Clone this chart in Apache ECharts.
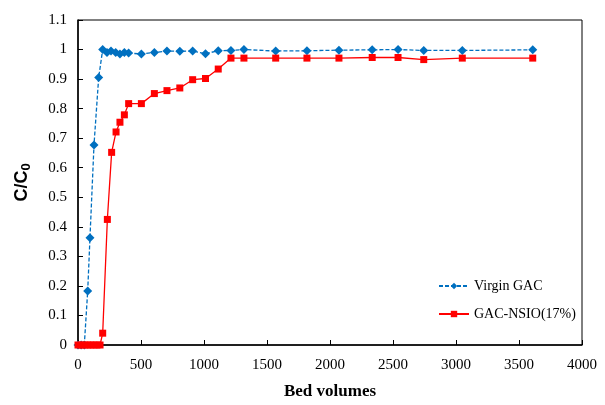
<!DOCTYPE html>
<html>
<head>
<meta charset="utf-8">
<script src="https://cdn.jsdelivr.net/npm/echarts@6/dist/echarts.min.js"></script>
<style>
  html, body { margin: 0; padding: 0; background: #fff; }
  #chart { width: 605px; height: 405px; }
</style>
</head>
<body>
<div id="chart"></div>
<script>
// bed volumes / C/C0
const virginX = [0, 25, 50, 77, 95, 127, 164, 196, 230, 262, 299, 333, 368, 402, 503, 606, 706, 808, 910, 1012, 1113, 1214, 1317, 1569, 1817, 2071, 2335, 2540, 2744, 3050, 3609];
const virginY = [0, 0, 0, 0.183, 0.363, 0.677, 0.905, 1.0, 0.99, 0.995, 0.99, 0.985, 0.99, 0.988, 0.985, 0.99, 0.995, 0.994, 0.995, 0.986, 0.996, 0.997, 1.0, 0.995, 0.996, 0.998, 0.999, 1.0, 0.997, 0.997, 0.999];

const nsioX = [0, 25, 50, 75, 100, 125, 150, 175, 196, 233, 267, 302, 333, 368, 402, 503, 606, 706, 808, 910, 1012, 1113, 1214, 1317, 1569, 1817, 2071, 2335, 2540, 2744, 3050, 3609];
const nsioY = [0, 0, 0, 0, 0, 0, 0, 0, 0.04, 0.425, 0.652, 0.721, 0.754, 0.779, 0.817, 0.817, 0.851, 0.861, 0.870, 0.898, 0.902, 0.934, 0.971, 0.971, 0.971, 0.971, 0.971, 0.973, 0.973, 0.966, 0.971, 0.971];

const xTicks = { min: 0, max: 4000, step: 500 };
const yTicks = { min: 0, max: 1.1, step: 0.1 };

const chart = echarts.init(document.getElementById('chart'));

const serif = '"Liberation Serif", "Times New Roman", serif';

chart.setOption({
  animation: false,
  backgroundColor: '#fff',
  grid: {
    left: 78, right: 23, top: 20, bottom: 54,
    show: true, borderColor: '#000', borderWidth: 1
  },
  legend: {
    orient: 'vertical',
    left: 433, top: 274,
    itemWidth: 30, itemHeight: 8, itemGap: 14,
    textStyle: { fontFamily: serif, fontSize: 14, color: '#000' },
    data: ['Virgin GAC', 'GAC-NSIO(17%)']
  },
  xAxis: {
    type: 'value',
    min: xTicks.min, max: xTicks.max, interval: xTicks.step,
    name: 'Bed volumes',
    nameLocation: 'middle',
    nameGap: 38,
    nameTextStyle: { fontFamily: serif, fontSize: 17, fontWeight: 'bold', color: '#000' },
    axisLine: { lineStyle: { color: '#000', width: 1.5 } },
    axisTick: { inside: true, length: 5, lineStyle: { color: '#000' } },
    axisLabel: { fontFamily: serif, fontSize: 15, color: '#000', margin: 13, formatter: v => String(v) },
    splitLine: { show: false }
  },
  yAxis: {
    type: 'value',
    min: yTicks.min, max: yTicks.max, interval: yTicks.step,
    name: '{a|C/C}{b|0}',
    nameLocation: 'middle',
    nameGap: 45,
    nameRotate: 90,
    nameTextStyle: {
      rich: {
        a: { fontFamily: '"Liberation Sans", Arial, sans-serif', fontSize: 18, fontWeight: 'bold', color: '#000' },
        b: { fontFamily: '"Liberation Sans", Arial, sans-serif', fontSize: 13, fontWeight: 'bold', color: '#000', padding: [8, 0, 0, 0] }
      }
    },
    axisLine: { lineStyle: { color: '#000', width: 1.5 } },
    axisTick: { inside: true, length: 5, lineStyle: { color: '#000' } },
    axisLabel: { fontFamily: serif, fontSize: 15, color: '#000', margin: 11, formatter: v => String(v) },
    splitLine: { show: false }
  },
  series: [
    {
      name: 'Virgin GAC',
      type: 'line',
      data: virginX.map((x, i) => [x, virginY[i]]),
      symbol: 'diamond',
      symbolSize: 9,
      itemStyle: { color: '#0070C0' },
      lineStyle: { color: '#0070C0', width: 1.3, type: [4, 2] },
      z: 3
    },
    {
      name: 'GAC-NSIO(17%)',
      type: 'line',
      data: nsioX.map((x, i) => [x, nsioY[i]]),
      symbol: 'rect',
      symbolSize: 7,
      itemStyle: { color: '#FF0000' },
      lineStyle: { color: '#FF0000', width: 1.3 },
      z: 4
    }
  ]
});
</script>
</body>
</html>
